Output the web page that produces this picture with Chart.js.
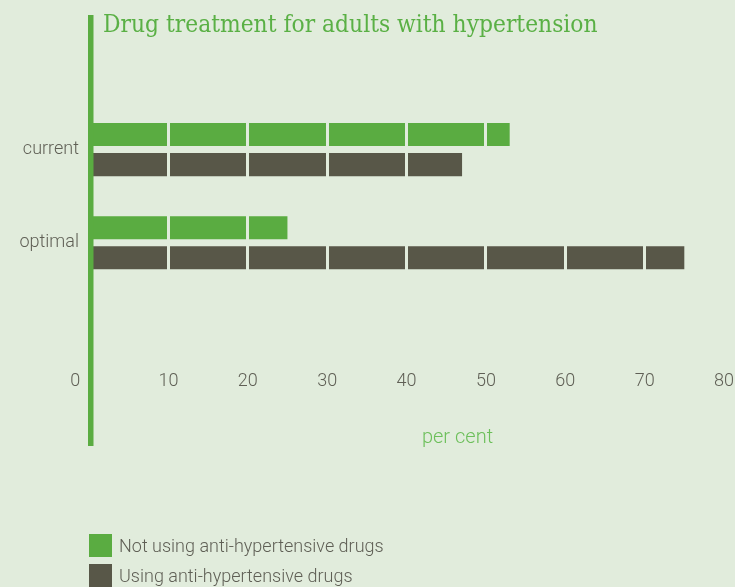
<!DOCTYPE html>
<html><head><meta charset="utf-8">
<script src="https://cdn.jsdelivr.net/npm/chart.js@4.4.1/dist/chart.umd.min.js"></script>
<style>
html,body{margin:0;padding:0;background:#e1ecdc;}
#wrap{position:relative;width:735px;height:587px;overflow:hidden;}
canvas{display:block}
#legend{position:absolute;left:89px;top:534px;font-family:Roboto,sans-serif;font-weight:300;font-size:18px;color:#5f5f55;}
.item{display:flex;align-items:center;height:23px;margin-bottom:7px;white-space:nowrap;}
.sw{width:23px;height:23px;margin-right:7px;flex:none;}
</style></head>
<body><div id="wrap"><canvas id="c" width="735" height="587"></canvas><div id="legend"></div></div>
<script>
// ---- data ----
const titleText = 'Drug treatment for adults with hypertension';
const categories = ['current', 'optimal'];
const seriesNames = ['Not using anti-hypertensive drugs', 'Using anti-hypertensive drugs'];
const notUsing = [53, 25];
const usingDrugs = [47, 75];
const xTickValues = [0, 10, 20, 30, 40, 50, 60, 70, 80];
const xAxisTitle = 'per cent';

const BG = '#e1ecdc';
const GREEN = '#5aac41';
const DARK = '#585748';
const TXT = '#5f5f55';

const deco = {
  id: 'deco',
  afterDraw(chart) {
    const ctx = chart.ctx;
    const x0 = chart.scales.x.getPixelForValue(0);
    ctx.save();
    ctx.fillStyle = GREEN;
    ctx.fillRect(x0 - 1, 15, 5.5, 431);
    ctx.fillStyle = '#5ab045';
    ctx.font = '24.3px "DejaVu Serif Condensed", "DejaVu Serif", serif';
    ctx.textBaseline = 'alphabetic';
    ctx.textAlign = 'left';
    ctx.fillText(titleText, x0 + 14, 32);
    ctx.restore();
  }
};

const chart = new Chart(document.getElementById('c'), {
  type: 'bar',
  data: {
    labels: categories,
    datasets: [
      { label: seriesNames[0], data: notUsing, backgroundColor: GREEN },
      { label: seriesNames[1], data: usingDrugs, backgroundColor: DARK }
    ]
  },
  options: {
    indexAxis: 'y',
    responsive: false,
    animation: false,
    categoryPercentage: 0.645,
    barPercentage: 0.767,
    layout: { padding: { left: 0, right: 11, top: 103, bottom: 137 } },
    plugins: { legend: { display: false }, title: { display: false }, tooltip: { enabled: false } },
    scales: {
      x: {
        min: 0, max: 80,
        afterBuildTicks: s => { s.ticks = xTickValues.map(v => ({ value: v })); },
        grid: { z: 1, color: BG, lineWidth: 3, drawTicks: true, tickLength: 81, tickColor: 'rgba(0,0,0,0)' },
        border: { display: false },
        ticks: {
          padding: 0, color: TXT, autoSkip: false, maxRotation: 0,
          font: { family: 'Roboto', size: 18, weight: 300 },
          callback: v => v === 0 ? '0\u2003\u2002' : String(v)
        },
        title: {
          display: true, text: '\u2003\u2003\u2003\u2003\u2003' + xAxisTitle, color: '#6cbf5a',
          font: { family: 'Roboto', size: 20, weight: 300 }, padding: { top: 34, bottom: 0 }
        }
      },
      y: {
        afterFit: s => { s.width = 89; },
        grid: { display: false },
        border: { display: false },
        ticks: { padding: 2, color: TXT, font: { family: 'Roboto', size: 18, weight: 300 } }
      }
    }
  },
  plugins: [deco]
});

const leg = document.getElementById('legend');
chart.data.datasets.forEach(ds => {
  const it = document.createElement('div'); it.className = 'item';
  const sw = document.createElement('span'); sw.className = 'sw'; sw.style.background = ds.backgroundColor;
  const tx = document.createElement('span'); tx.textContent = ds.label;
  it.appendChild(sw); it.appendChild(tx); leg.appendChild(it);
});
</script>
</body></html>
